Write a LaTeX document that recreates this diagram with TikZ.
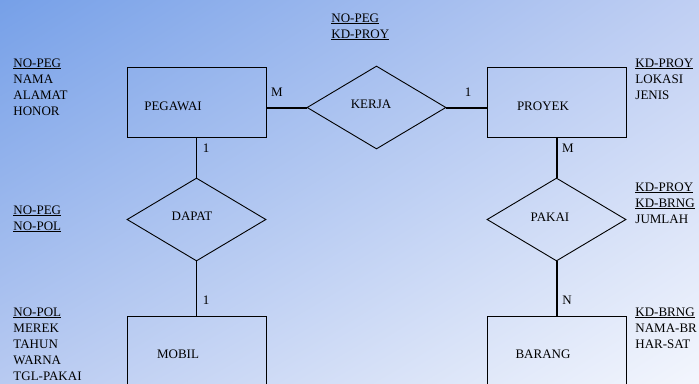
\documentclass[tikz,border=0pt]{standalone}
\usepackage{fontspec}
\setmainfont{Liberation Serif}
\usetikzlibrary{
  positioning, shadings,
  shapes.geometric
}

\definecolor{bgtl}{RGB}{118,160,232}
\definecolor{bgtr}{RGB}{192,207,243}
\definecolor{bgbl}{RGB}{184,202,241}
\definecolor{bgbr}{RGB}{243,246,253}

\tikzset{
  entity/.style={draw, rectangle, minimum width=139pt, minimum height=70pt, inner sep=0pt},
  relation/.style={draw, diamond, minimum width=139pt, minimum height=83pt, inner sep=0pt},
  attrib/.style={anchor=north west, align=left, inner sep=0pt},
  card/.style={inner sep=0pt},
  heavy/.style={line width=2pt},
  light/.style={line width=0.9pt}
}

\begin{document}
\begin{tikzpicture}[x=1pt, y=-1pt, font=\fontsize{13}{16}\selectfont, line width=0.9pt]
      \shade[upper left=bgtl, upper right=bgtr, lower left=bgbl, lower right=bgbr] (0,0) rectangle (699,383); % background
      \useasboundingbox (0,0) rectangle (699,383);

      % entities
      \node[entity] (peg) at (196.5,102) {};
      \node[entity] (proy) at (556.5,102) {};
      \node[entity] (mob) at (196.5,351) {};
      \node[entity] (brg) at (556.5,351) {};
      \node[] at (173,106) {PEGAWAI};
      \node[] at (543,106) {PROYEK};
      \node[] at (178,354) {MOBIL};
      \node[] at (543,354) {BARANG};

      % relations
      \node[relation] (kerja) at (376.5,107.5) {};
      \node[relation] (dapat) at (196.5,219.5) {};
      \node[relation] (pakai) at (556.5,219.5) {};
      \node[] at (371,104) {KERJA};
      \node[] at (192,216) {DAPAT};
      \node[] at (550,217) {PAKAI};

      % connectors
      \draw[heavy] (kerja.west) -- (kerja.west -| peg.east);
      \draw[heavy] (kerja.east) -- (kerja.east -| proy.west);
      \draw[light] (peg.south) -- (dapat.north);
      \draw[light] (dapat.south) -- (mob.north);
      \draw[heavy] (proy.south) -- (pakai.north);
      \draw[heavy] (pakai.south) -- (brg.north);

      % cardinalities
      \node[card] at (277,92) {M};
      \node[card] at (468,92) {1};
      \node[card] at (206,148) {1};
      \node[card] at (568,148) {M};
      \node[card] at (206,300) {1};
      \node[card] at (567,300) {N};

      % attributes
      \node[attrib] (aPeg) at (13,58) {\underline{NO-PEG}\\NAMA\\ALAMAT\\HONOR};
      \node[attrib] (aKerja) at (331,13) {\underline{NO-PEG}\\\underline{KD-PROY}};
      \node[attrib] (aProy) at (635,58) {\underline{KD-PROY}\\LOKASI\\JENIS};
      \node[attrib] (aDapat) at (13,205) {\underline{NO-PEG}\\\underline{NO-POL}};
      \node[attrib] (aPakai) at (635,182) {\underline{KD-PROY}\\\underline{KD-BRNG}\\JUMLAH};
      \node[attrib] (aMob) at (13,307) {\underline{NO-POL}\\MEREK\\TAHUN\\WARNA\\TGL-PAKAI};
      \node[attrib] (aBrg) at (635,307) {\underline{KD-BRNG}\\NAMA-BR\\HAR-SAT};
    \end{tikzpicture}
\end{document}
